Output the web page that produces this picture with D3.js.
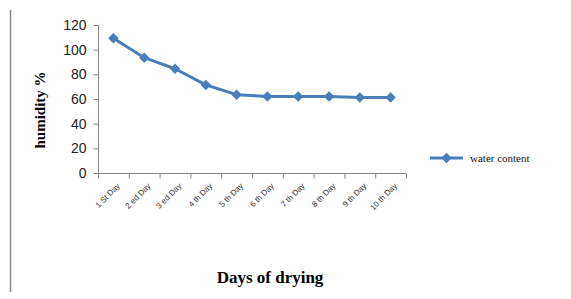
<!DOCTYPE html>
<html><head><meta charset="utf-8">
<script src="https://cdn.jsdelivr.net/npm/d3@7"></script>
<style>body{margin:0;background:#fff}svg{display:block}</style>
</head><body>
<script>
const categories = ["1 St Day","2 ed Day","3 ed Day","4 th Day","5 th Day","6 th Day","7 th Day","8 th Day","9 th Day","10 th Day"];
const waterContent = [109.2, 93.5, 84.5, 71.4, 63.5, 62.0, 62.0, 62.0, 61.3, 61.3];
const yTicks = [0, 20, 40, 60, 80, 100, 120];
const seriesName = "water content";

const W = 571, H = 299;
const svg = d3.select("body").append("svg").attr("width", W).attr("height", H);

// outer left border line
svg.append("line").attr("x1", 10.5).attr("x2", 10.5).attr("y1", 10).attr("y2", 292)
  .attr("stroke", "#888").attr("stroke-width", 1.5);

const x = d3.scaleBand().domain(categories).range([98, 406]);
const y = d3.scaleLinear().domain([0, 120]).range([173, 25]);
const axisColor = "#868686";

// y axis
const yAxis = svg.append("g").attr("transform", "translate(98.5,0)")
  .call(d3.axisLeft(y).tickValues(yTicks).tickSize(5).tickPadding(7));
yAxis.select(".domain").attr("stroke", axisColor).attr("d", "M-0,173V25");
yAxis.selectAll(".tick line").attr("stroke", axisColor);
yAxis.selectAll("text").attr("font-family", "Liberation Sans, Arial, sans-serif")
  .attr("font-size", 14).attr("fill", "#222");

// x axis
const xAxis = svg.append("g").attr("transform", "translate(0,173.5)");
xAxis.append("line").attr("x1", 98).attr("x2", 406).attr("stroke", axisColor);
const bounds = categories.map(c => x(c)).concat([x.range()[1]]);
xAxis.selectAll(".tk").data(bounds).enter().append("line")
  .attr("x1", d => d + 0.5).attr("x2", d => d + 0.5).attr("y1", 0).attr("y2", 5)
  .attr("stroke", axisColor);
xAxis.selectAll(".lbl").data(categories).enter().append("text")
  .attr("transform", d => `translate(${x(d) + x.bandwidth()/2 + 7},${13}) rotate(-45)`)
  .attr("text-anchor", "end").attr("font-family", "Liberation Sans, Arial, sans-serif")
  .attr("font-size", 8).attr("fill", "#333").text(d => d);

// line
const pts = categories.map((c, i) => [x(c) + x.bandwidth()/2, y(waterContent[i])]);
const blue = "#4A7EBB";
svg.append("path").attr("d", d3.line()(pts)).attr("fill", "none")
  .attr("stroke", blue).attr("stroke-width", 3).attr("stroke-linejoin", "round");
const diamond = d3.symbol().type(d3.symbolDiamond2).size(70);
svg.selectAll(".pt").data(pts).enter().append("path")
  .attr("transform", d => `translate(${d[0]},${d[1]})`)
  .attr("d", diamond).attr("fill", blue);

// legend
svg.append("line").attr("x1", 430).attr("x2", 463).attr("y1", 158).attr("y2", 158)
  .attr("stroke", blue).attr("stroke-width", 3);
svg.append("path").attr("transform", "translate(446.5,158)").attr("d", diamond).attr("fill", blue);
svg.append("text").attr("x", 470).attr("y", 162).attr("font-family", "Liberation Serif, Times New Roman, serif")
  .attr("font-size", 11).attr("fill", "#111").text(seriesName);

// axis titles
svg.append("text").attr("transform", "translate(45,110) rotate(-90)").attr("text-anchor", "middle")
  .attr("font-family", "Liberation Serif, Times New Roman, serif").attr("font-weight", "bold")
  .attr("font-size", 15).text("humidity %");
svg.append("text").attr("x", 270).attr("y", 283).attr("text-anchor", "middle")
  .attr("font-family", "Liberation Serif, Times New Roman, serif").attr("font-weight", "bold")
  .attr("font-size", 17).text("Days of drying");
</script>
</body></html>
